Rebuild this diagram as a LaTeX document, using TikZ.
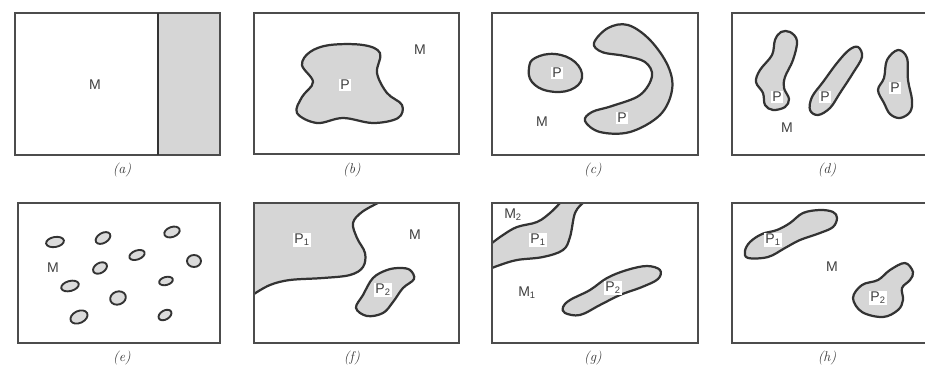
\documentclass[tikz,border=0pt]{standalone}
\usepackage{fontspec}
\newfontfamily\phasefont{Liberation Sans}
\usetikzlibrary{positioning}

\begin{document}
\begin{tikzpicture}[x=0.03cm, y=-0.03cm,
  panel/.style={draw=black!70, line width=1.1pt},
  phase/.style={draw=black!80, fill=black!16, line width=1.9pt, line join=round},
  lab/.style={font=\phasefont\large, inner sep=0.8pt, text=black!75},
  plab/.style={lab, fill=white},
  subcap/.style={font=\large\itshape, text=black!80},
  drop/.style={draw=black!80, fill=black!14, line width=1.6pt}
]
  \clip (0,0) rectangle (925,365);
  \fill[white] (0,0) rectangle (925,365);

  % panel (a)
  \fill[black!16] (158,13) rectangle (220,155);
  \draw[panel] (15,13) rectangle (220,155);
  \draw[line width=1.9pt, black!80] (158,13) -- (158,155);
  \node[lab] (Ma) at (95,85) {M};
  \node[subcap] (capa) at (122,170) {(a)};

  % panel (b)
  \draw[panel] (254,13) rectangle (459,154);
  \draw[phase] plot[smooth cycle, tension=0.6] coordinates {
    (330,45) (363,45) (380,53) (377,73) (387,93) (402,105) (398,118)
    (373,123) (343,118) (317,123) (297,113) (302,97) (313,82) (302,65) (310,52)};
  \node[lab] (Mb) at (420,50) {M};
  \node[plab] (Pb) at (345,85) {P};
  \node[subcap] (capb) at (352,170) {(b)};

  % panel (c)
  \draw[panel] (492,13) rectangle (698,155);
  \draw[phase] plot[smooth cycle, tension=0.7] coordinates {
    (535,58) (555,54) (575,62) (582,78) (570,90) (548,91) (532,82) (529,68)};
  \draw[phase] plot[smooth cycle, tension=0.6] coordinates {
    (594,43) (608,28) (628,25) (650,40) (668,66) (672,90) (660,115) (630,132)
    (600,132) (585,121) (592,112) (612,106) (640,95) (652,76) (645,62)
    (625,56) (602,52)};
  \node[plab] (Pc1) at (557,73) {P};
  \node[plab] (Pc2) at (622,118) {P};
  \node[lab] (Mc) at (542,122) {M};
  \node[subcap] (capc) at (593,170) {(c)};

  % panel (d)
  \draw[panel] (732,13) rectangle (930,155);
  \draw[phase] plot[smooth cycle, tension=0.6] coordinates {
    (790,32) (797,41) (793,60) (785,77) (784,88) (789,99) (785,107) (773,110)
    (765,105) (763,93) (756,82) (760,70) (772,55) (775,40) (781,32)};
  \draw[phase] plot[smooth cycle, tension=0.6] coordinates {
    (858,47) (862,57) (853,73) (840,93) (830,108) (818,115) (810,110)
    (812,97) (823,82) (837,63) (849,50)};
  \draw[phase] plot[smooth cycle, tension=0.6] coordinates {
    (898,50) (907,58) (908,80) (912,100) (910,112) (900,118) (890,114)
    (884,103) (878,90) (884,78) (887,60)};
  \node[plab] (Pd1) at (777,97) {P};
  \node[plab] (Pd2) at (825,97) {P};
  \node[plab] (Pd3) at (895,88) {P};
  \node[lab] (Md) at (787,128) {M};
  \node[subcap] (capd) at (827,170) {(d)};

  % panel (e)
  \draw[panel] (18,203) rectangle (220,343);
  \foreach \cx/\cy/\rx/\ry/\ang in {55/242/9/5/10, 103/238/8/5/30, 172/232/8/5/20,
      137/255/8/4.5/20, 100/268/7.5/5/30, 194/261/7/6/0, 70/286/9/5/15,
      166/281/7/4/15, 118/298/8/6.5/20, 79/317/9/6/25, 165/315/7/4.5/30}
    \draw[drop, rotate around={\ang:(\cx,\cy)}] (\cx,\cy)
      ellipse [x radius={\rx*0.8536pt}, y radius={\ry*0.8536pt}];
  \node[lab] (Me) at (53,268) {M};
  \node[subcap] (cape) at (122,358) {(e)};

  % panel (f)
  \fill[black!16] (254,203) -- plot[smooth, tension=0.6] coordinates {
    (378,203) (362,212) (353,223) (357,238) (365,253) (363,267) (350,275)
    (323,278) (290,280) (270,285) (254,294)} -- cycle;
  \draw[draw=black!80, line width=1.9pt] plot[smooth, tension=0.6] coordinates {
    (378,203) (362,212) (353,223) (357,238) (365,253) (363,267) (350,275)
    (323,278) (290,280) (270,285) (254,294)};
  \draw[panel] (254,203) rectangle (459,343);
  \draw[phase] plot[smooth cycle, tension=0.6] coordinates {
    (410,270) (414,279) (403,288) (393,302) (383,313) (367,316) (356,308)
    (363,295) (373,278) (387,270) (400,268)};
  \node[plab] (Pf1) at (302,240) {P\textsubscript{1}};
  \node[plab] (Pf2) at (383,290) {P\textsubscript{2}};
  \node[lab] (Mf) at (415,235) {M};
  \node[subcap] (capf) at (352,358) {(f)};

  % panel (g)
  \fill[black!16] plot[smooth, tension=0.6] coordinates {
    (560,203) (550,213) (537,222) (517,227) (503,235) (492,243)}
    -- plot[smooth, tension=0.6] coordinates {
    (492,268) (500,265) (517,260) (543,257) (563,250) (570,237) (575,213) (583,203)}
    -- cycle;
  \draw[draw=black!80, line width=1.9pt] plot[smooth, tension=0.6] coordinates {
    (560,203) (550,213) (537,222) (517,227) (503,235) (492,243)};
  \draw[draw=black!80, line width=1.9pt] plot[smooth, tension=0.6] coordinates {
    (492,268) (500,265) (517,260) (543,257) (563,250) (570,237) (575,213) (583,203)};
  \draw[panel] (492,203) rectangle (698,343);
  \draw[phase] plot[smooth cycle, tension=0.6] coordinates {
    (660,270) (658,279) (642,287) (620,295) (600,305) (580,315) (565,313)
    (563,307) (570,300) (590,290) (607,278) (627,270) (647,266)};
  \node[lab] (Mg2) at (513,215) {M\textsubscript{2}};
  \node[plab] (Pg1) at (538,240) {P\textsubscript{1}};
  \node[lab] (Mg1) at (527,293) {M\textsubscript{1}};
  \node[plab] (Pg2) at (613,288) {P\textsubscript{2}};
  \node[subcap] (capg) at (593,358) {(g)};

  % panel (h)
  \draw[panel] (732,203) rectangle (930,343);
  \draw[phase] plot[smooth cycle, tension=0.6] coordinates {
    (837,218) (833,227) (820,233) (800,240) (785,248) (768,257) (748,258)
    (745,251) (750,242) (762,234) (777,230) (790,223) (803,213) (820,210) (833,212)};
  \draw[phase] plot[smooth cycle, tension=0.6] coordinates {
    (905,263) (913,272) (910,280) (902,288) (903,300) (898,310) (883,317)
    (862,312) (853,298) (862,285) (878,280) (890,270)};
  \node[plab] (Ph1) at (773,240) {P\textsubscript{1}};
  \node[lab] (Mh) at (832,267) {M};
  \node[plab] (Ph2) at (878,298) {P\textsubscript{2}};
  \node[subcap] (caph) at (827,358) {(h)};
\end{tikzpicture}
\end{document}
